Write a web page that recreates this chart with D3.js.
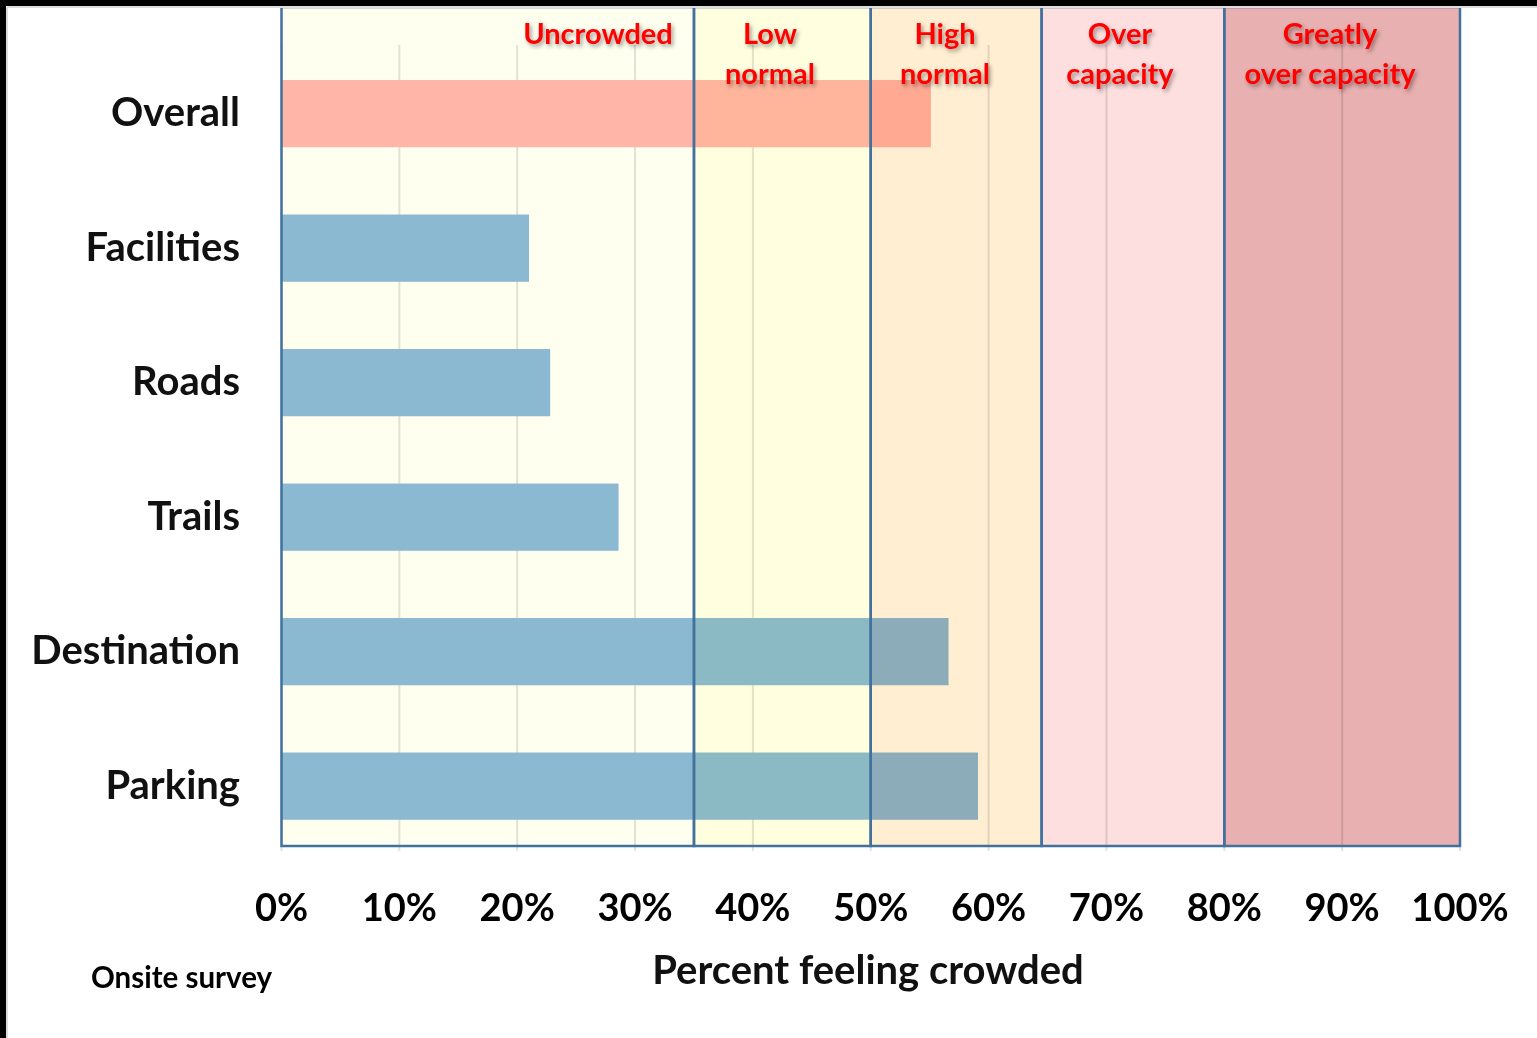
<!DOCTYPE html>
<html>
<head>
<meta charset="utf-8">
<script src="https://cdn.jsdelivr.net/npm/d3@7"></script>
<style>
  html, body { margin: 0; padding: 0; background: #fff; }
  svg { display: block; }
  text { font-family: Lato, "Open Sans", sans-serif; font-weight: bold; }
</style>
</head>
<body>
<svg id="chart" width="1537" height="1038"></svg>
<script>
// ---- data ----
const categories = ["Overall", "Facilities", "Roads", "Trails", "Destination", "Parking"];
const values = [55.1, 21.0, 22.8, 28.6, 56.6, 59.1];
const barColors = ["#FFB5B2", "#8BB9E0", "#8BB9E0", "#8BB9E0", "#8BB9E0", "#8BB9E0"];
const zoneStarts = [0, 35, 50, 64.5, 80];
const zoneEnds = [35, 50, 64.5, 80, 100];
const zoneLabels = [["Uncrowded"], ["Low", "normal"], ["High", "normal"], ["Over", "capacity"], ["Greatly", "over capacity"]];
const zoneColors = ["#FFFFF0", "#FFFFE0", "#FFEED2", "#FDDFDF", "#E8B0B0"];
const tickValues = [0, 10, 20, 30, 40, 50, 60, 70, 80, 90, 100];
const tickLabels = ["0%", "10%", "20%", "30%", "40%", "50%", "60%", "70%", "80%", "90%", "100%"];
const xTitle = "Percent feeling crowded";
const note = "Onsite survey";

// ---- layout ----
const svg = d3.select("#chart");
const W = 1537, H = 1038;
const x = d3.scaleLinear().domain([0, 100]).range([281.5, 1460]);
const y = d3.scaleBand().domain(categories).range([46.4, 853.4]).paddingInner(0.5).paddingOuter(0.25);
const zoneTop = 7, zoneBottom = 846;

svg.append("rect").attr("width", W).attr("height", H).attr("fill", "#fff");

const defs = svg.append("defs");
const f = defs.append("filter").attr("id", "shadow").attr("x", "-20%").attr("y", "-20%").attr("width", "140%").attr("height", "160%");
f.append("feDropShadow").attr("dx", 2).attr("dy", 2.5).attr("stdDeviation", 2).attr("flood-color", "#000").attr("flood-opacity", 0.4);

// gridlines
svg.append("g").selectAll("line").data(tickValues).join("line")
  .attr("x1", d => x(d)).attr("x2", d => x(d))
  .attr("y1", 45).attr("y2", 851)
  .attr("stroke", "#e2e2e2").attr("stroke-width", 2);

// bars
svg.append("g").selectAll("rect").data(categories).join("rect")
  .attr("x", x(0))
  .attr("y", d => y(d))
  .attr("width", (d, i) => x(values[i]) - x(0))
  .attr("height", y.bandwidth())
  .attr("fill", (d, i) => barColors[i]);

// zones (multiply blend over bars)
const zoneG = svg.append("g");
zoneG.selectAll("rect").data(zoneStarts).join("rect")
  .attr("x", d => x(d))
  .attr("y", zoneTop)
  .attr("width", (d, i) => x(zoneEnds[i]) - x(d))
  .attr("height", zoneBottom - zoneTop)
  .attr("fill", (d, i) => zoneColors[i])
  .style("mix-blend-mode", "multiply");

// zone borders
svg.append("g").selectAll("rect").data(zoneStarts).join("rect")
  .attr("x", d => x(d))
  .attr("y", zoneTop)
  .attr("width", (d, i) => x(zoneEnds[i]) - x(d))
  .attr("height", zoneBottom - zoneTop)
  .attr("fill", "none")
  .attr("stroke", "#41719C")
  .attr("stroke-width", 2.5);

// zone labels
const zl = svg.append("g").attr("filter", "url(#shadow)");
const labelCenters = [598, 770, 945, 1120, 1330];
zoneLabels.forEach((lines, i) => {
  const t = zl.append("text")
    .attr("x", labelCenters[i])
    .attr("y", 44)
    .attr("text-anchor", "middle")
    .attr("font-size", 29)
    .attr("fill", "#FF0000");
  lines.forEach((ln, j) => {
    t.append("tspan").attr("x", labelCenters[i]).attr("dy", j === 0 ? 0 : 40).text(ln);
  });
});

// category labels
svg.append("g").selectAll("text").data(categories).join("text")
  .attr("x", 240)
  .attr("y", d => y(d) + y.bandwidth() / 2)
  .attr("dy", "0.32em")
  .attr("text-anchor", "end")
  .attr("font-size", 40)
  .attr("fill", "#111")
  .text(d => d);

// tick labels
svg.append("g").selectAll("text").data(tickValues).join("text")
  .attr("x", d => x(d))
  .attr("y", 921)
  .attr("text-anchor", "middle")
  .attr("font-size", 38)
  .attr("fill", "#000")
  .text((d, i) => tickLabels[i]);

// axis title
svg.append("text").attr("x", 868).attr("y", 984).attr("text-anchor", "middle")
  .attr("font-size", 40).attr("fill", "#111").text(xTitle);

svg.append("text").attr("x", 91).attr("y", 988).attr("text-anchor", "start")
  .attr("font-size", 29.5).attr("fill", "#000").text(note);

// frame
svg.append("rect").attr("x", 0).attr("y", 0).attr("width", W).attr("height", 6).attr("fill", "#000");
svg.append("rect").attr("x", 0).attr("y", 0).attr("width", 6).attr("height", H).attr("fill", "#000");
svg.append("line").attr("x1", 7).attr("x2", W).attr("y1", 7).attr("y2", 7).attr("stroke", "#ddd").attr("stroke-width", 2);
svg.append("line").attr("x1", 7).attr("x2", 7).attr("y1", 7).attr("y2", H).attr("stroke", "#ddd").attr("stroke-width", 2);
</script>
</body>
</html>
